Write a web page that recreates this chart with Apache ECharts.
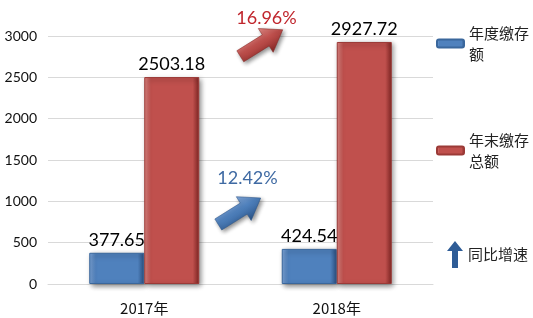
<!DOCTYPE html>
<html>
<head>
<meta charset="utf-8">
<style>
  html, body { margin: 0; padding: 0; background: #fff; }
  #chart { width: 533px; height: 318px; }
</style>
<script src="https://cdn.jsdelivr.net/npm/echarts@6/dist/echarts.min.js"></script>
</head>
<body>
<div id="chart"></div>
<script>
// 数据
var years = ['2017年', '2018年'];
var annualDeposit = [377.65, 424.54];    // 年度缴存额
var totalDeposit = [2503.18, 2927.72];   // 年末缴存总额
var growthRates = [12.42, 16.96];        // 同比增速 (%)
var yTicks = [0, 500, 1000, 1500, 2000, 2500, 3000];

var NUM_FONT = 'Lato, "Noto Sans", sans-serif';
var CJK_FONT = '"Noto Sans CJK SC", sans-serif';

// 箭头摆放: 相对两个类目中点的偏移, 以及箭头所在的数值高度
var arrowLayout = [
  { dx: -1, at: 880, labelDx: 8, labelDy: -33, fill: ['#86abdd', '#4f81bd', '#2a5387'], text: '#3f6aa3' },
  { dx: 21, at: 2915, labelDx: 5, labelDy: -25, fill: ['#e88f8b', '#c0504d', '#862725'], text: '#c0262d' }
];

function barFill(light, base, dark) {
  return new echarts.graphic.LinearGradient(0, 0, 1, 0, [
    { offset: 0, color: light },
    { offset: 0.12, color: base },
    { offset: 0.88, color: base },
    { offset: 1, color: dark }
  ]);
}

var chart = echarts.init(document.getElementById('chart'));

var option = {
  animation: false,
  grid: { left: 48, right: 100, top: 36, bottom: 34 },
  xAxis: {
    type: 'category',
    data: years,
    axisLine: { lineStyle: { color: '#d9d9d9' } },
    axisTick: { show: false },
    axisLabel: { margin: 17, fontSize: 15, color: '#111', fontFamily: CJK_FONT }
  },
  yAxis: {
    type: 'value',
    min: yTicks[0],
    max: yTicks[yTicks.length - 1],
    interval: yTicks[1] - yTicks[0],
    axisLine: { show: false },
    axisTick: { show: false },
    axisLabel: {
      margin: 11, fontSize: 14, color: '#111', fontFamily: NUM_FONT,
      formatter: function (v) { return String(v); }
    },
    splitLine: { lineStyle: { color: '#d9d9d9' } }
  },
  legend: [
    {
      left: 436, top: 12, padding: 0,
      itemWidth: 27, itemHeight: 8, itemGap: 4,
      data: ['年度缴存额'],
      formatter: function () { return '年度缴存\n额'; },
      textStyle: { fontSize: 15, lineHeight: 21, padding: [21, 0, 0, 0], color: '#222', fontFamily: CJK_FONT }
    },
    {
      left: 436, top: 119, padding: 0,
      itemWidth: 27, itemHeight: 8, itemGap: 4,
      data: ['年末缴存总额'],
      formatter: function () { return '年末缴存\n总额'; },
      textStyle: { fontSize: 15, lineHeight: 21, padding: [21, 0, 0, 0], color: '#222', fontFamily: CJK_FONT }
    },
    {
      left: 447, top: 241, padding: 0,
      itemWidth: 16, itemHeight: 27, itemGap: 4,
      data: [{
        name: '同比增速',
        icon: 'path://M8,0 L16,10 L11,10 L11,27 L5,27 L5,10 L0,10 Z',
        itemStyle: { color: '#2e5c96' }
      }],
      textStyle: { fontSize: 15, color: '#222', fontFamily: CJK_FONT }
    }
  ],
  series: [
    {
      name: '年度缴存额',
      type: 'bar',
      data: annualDeposit,
      barWidth: 55,
      barGap: 0,
      itemStyle: {
        color: barFill('#7ea6da', '#4f81bd', '#2d5283'),
        borderColor: '#3a679c',
        borderWidth: 1,
        shadowColor: 'rgba(0,0,0,0.45)',
        shadowBlur: 5,
        shadowOffsetX: 2,
        shadowOffsetY: 2
      },
      label: {
        show: true, position: 'top', distance: 4,
        fontSize: 18, color: '#000', fontFamily: NUM_FONT,
        formatter: function (p) { return p.value.toFixed(2); }
      }
    },
    {
      name: '年末缴存总额',
      type: 'bar',
      data: totalDeposit,
      barWidth: 55,
      barGap: 0,
      itemStyle: {
        color: barFill('#e08884', '#c0504d', '#7f2624'),
        borderColor: '#9b3a37',
        borderWidth: 1,
        shadowColor: 'rgba(0,0,0,0.45)',
        shadowBlur: 5,
        shadowOffsetX: 2,
        shadowOffsetY: 2
      },
      label: {
        show: true, position: 'top', distance: 4,
        fontSize: 18, color: '#000', fontFamily: NUM_FONT,
        formatter: function (p) { return p.value.toFixed(2); }
      }
    },
    {
      name: '同比增速',
      type: 'custom',
      clip: false,
      silent: true,
      itemStyle: { color: '#2e5c96' },
      data: growthRates.map(function (g, i) { return [i, g]; }),
      renderItem: function (params, api) {
        var lay = arrowLayout[params.dataIndex];
        var midX = (api.coord([0, 0])[0] + api.coord([1, 0])[0]) / 2;
        var cx = midX + lay.dx;
        var cy = api.coord([0, lay.at])[1];
        var pts = [[-25, -6.5], [5, -6.5], [5, -14], [25, 0], [5, 14], [5, 6.5], [-25, 6.5]];
        return {
          type: 'group',
          children: [
            {
              type: 'group',
              x: cx, y: cy,
              rotation: 32 * Math.PI / 180,
              children: [{
                type: 'polygon',
                shape: { points: pts },
                style: {
                  fill: new echarts.graphic.LinearGradient(0, 0, 0, 1, [
                    { offset: 0, color: lay.fill[0] },
                    { offset: 0.45, color: lay.fill[1] },
                    { offset: 1, color: lay.fill[2] }
                  ]),
                  stroke: lay.fill[2],
                  lineWidth: 0.5,
                  shadowColor: 'rgba(0,0,0,0.45)',
                  shadowBlur: 4,
                  shadowOffsetX: 2,
                  shadowOffsetY: 2
                }
              }]
            },
            {
              type: 'text',
              x: cx + lay.labelDx,
              y: cy + lay.labelDy,
              style: {
                text: api.value(1).toFixed(2) + '%',
                fill: lay.text,
                fontSize: 18,
                fontFamily: NUM_FONT,
                align: 'center',
                verticalAlign: 'middle'
              }
            }
          ]
        };
      }
    }
  ]
};

chart.setOption(option);
</script>
</body>
</html>
